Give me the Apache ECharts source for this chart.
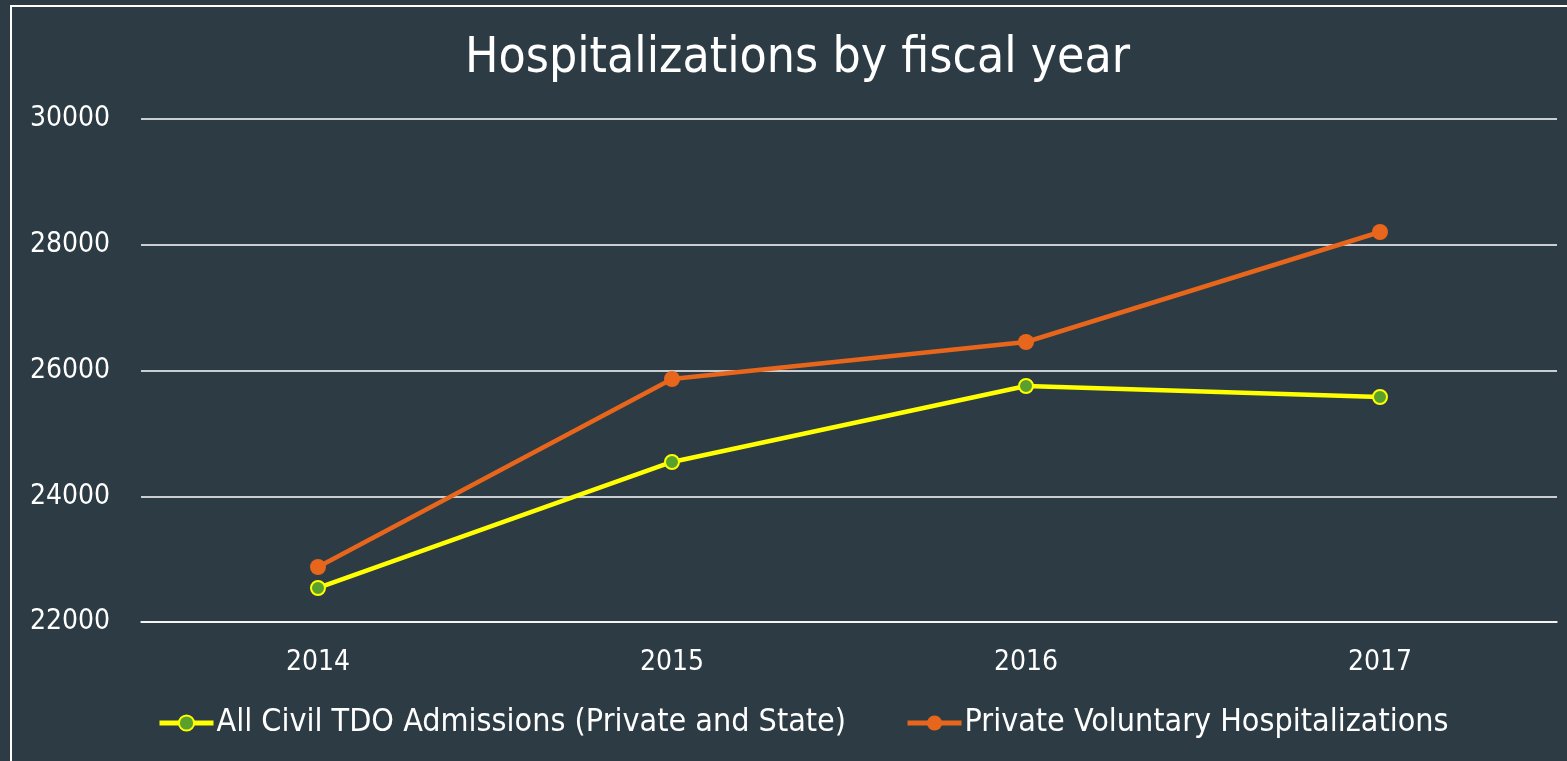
<!DOCTYPE html>
<html>
<head>
<meta charset="utf-8">
<script src="https://cdn.jsdelivr.net/npm/echarts@6/dist/echarts.min.js"></script>
<style>
  html, body { margin: 0; padding: 0; background: #2d3c44; }
  #chart { width: 1567px; height: 761px; }
</style>
</head>
<body>
<div id="chart"></div>
<script>
const years = ['2014', '2015', '2016', '2017']
const tdoAdmissions = [22541, 24545, 25753, 25579]
const voluntaryHosp = [22875, 25865, 26453, 28203]

const font = 'DejaVu Sans Condensed'
const myChart = echarts.init(document.getElementById('chart'))
myChart.setOption({
  backgroundColor: '#2d3c44',
  graphic: [
    {
      type: 'rect',
      shape: { x: 11, y: 6, width: 1600, height: 800 },
      style: { fill: 'none', stroke: '#ffffff', lineWidth: 2 },
      silent: true
    }
  ],
  title: {
    text: 'Hospitalizations by fiscal year',
    left: 465,
    top: 34,
    padding: 0,
    textStyle: { color: '#ffffff', fontFamily: font, fontWeight: 'normal', fontSize: 49.5 }
  },
  legend: {
    top: 707,
    left: 157,
    padding: 0,
    itemWidth: 54,
    itemHeight: 19,
    itemGap: 59,
    lineStyle: { width: 5 },
    textStyle: { color: '#ffffff', fontFamily: font, fontSize: 32, padding: [0, 0, 0, -2] },
    data: ['All Civil TDO Admissions (Private and State)', 'Private Voluntary Hospitalizations']
  },
  grid: { left: 141, right: 10, top: 119, bottom: 139 },
  xAxis: {
    type: 'category',
    data: years,
    boundaryGap: true,
    axisLine: { lineStyle: { color: '#ffffff', width: 1.5 } },
    axisTick: { show: false },
    axisLabel: { color: '#ffffff', fontFamily: font, fontSize: 28, margin: 27 }
  },
  yAxis: {
    type: 'value',
    min: 22000,
    max: 30000,
    interval: 2000,
    axisLine: { show: false },
    axisTick: { show: false },
    splitLine: { lineStyle: { color: '#ffffff', width: 1.5 } },
    axisLabel: {
      color: '#ffffff',
      fontFamily: font,
      fontSize: 28,
      margin: 31,
      padding: [6, 0, 0, 0],
      formatter: function(v) { return String(v) }
    }
  },
  series: [
    {
      name: 'All Civil TDO Admissions (Private and State)',
      type: 'line',
      data: tdoAdmissions,
      symbol: 'circle',
      symbolSize: 14,
      lineStyle: { color: '#ffff00', width: 4.5 },
      itemStyle: { color: '#5aa02c', borderColor: '#ffff00', borderWidth: 2 },
      z: 3
    },
    {
      name: 'Private Voluntary Hospitalizations',
      type: 'line',
      data: voluntaryHosp,
      symbol: 'circle',
      symbolSize: 16,
      lineStyle: { color: '#e8661c', width: 4.5 },
      itemStyle: { color: '#e8661c', borderColor: '#e8661c', borderWidth: 0 },
      z: 2
    }
  ]
})
</script>
</body>
</html>
